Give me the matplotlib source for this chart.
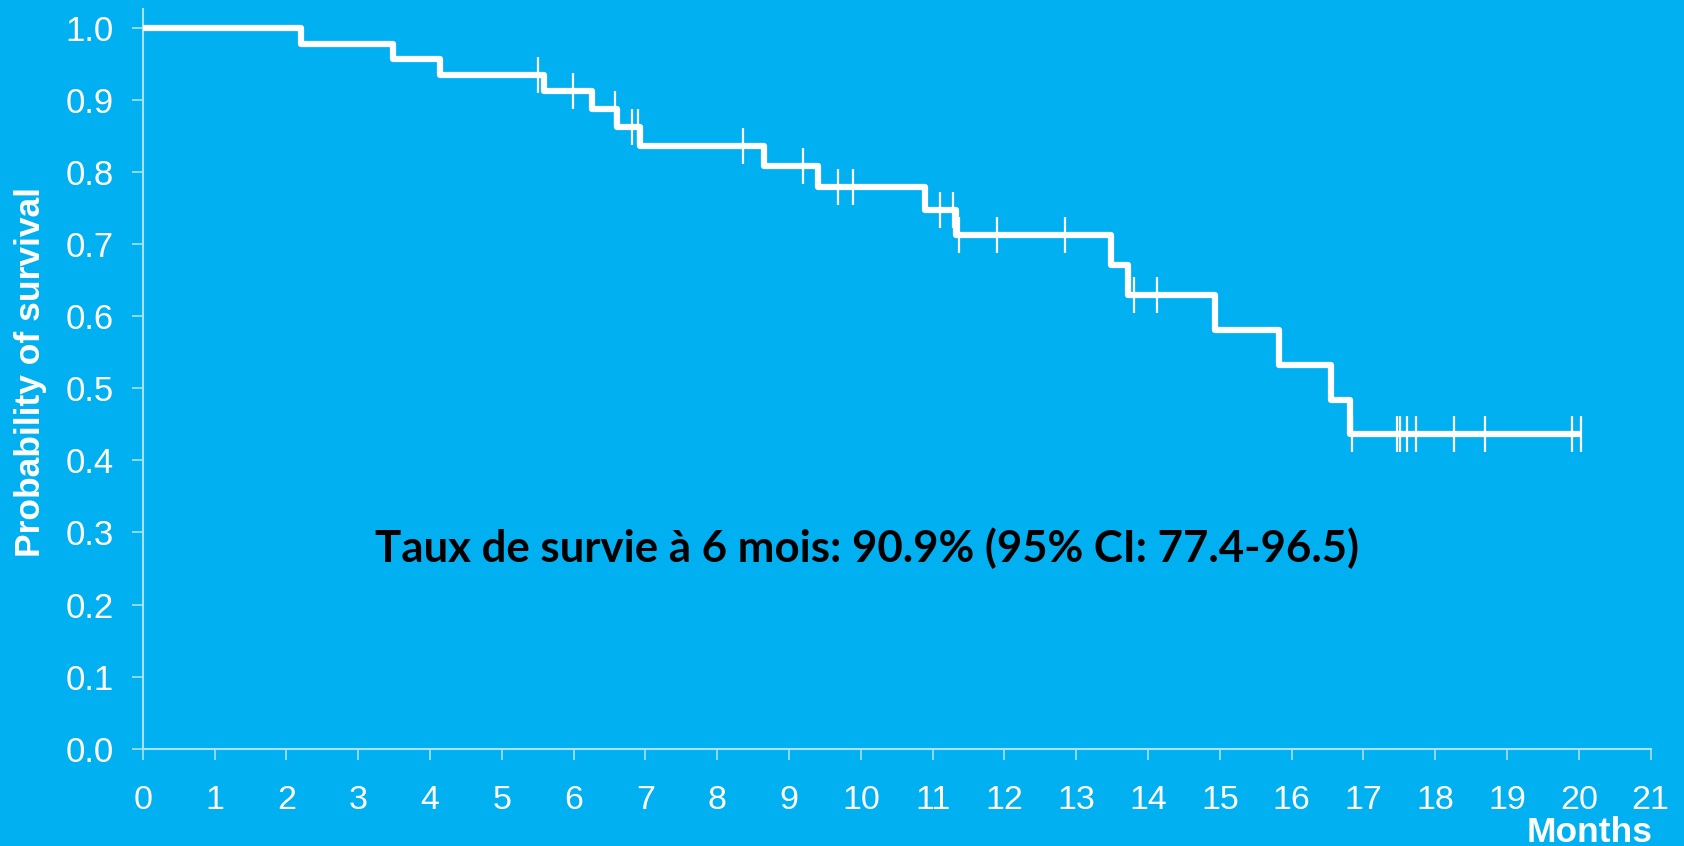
import numpy as np
import matplotlib.pyplot as plt

# Kaplan-Meier steps
step_times = [0, 2.21, 3.48, 4.14, 5.59, 6.25, 6.60, 6.93, 8.65, 9.41, 10.90,
              11.33, 13.48, 13.72, 14.93, 15.82, 16.55, 16.81]
step_surv = [1.0, 0.978, 0.957, 0.935, 0.912, 0.888, 0.863, 0.836, 0.808, 0.779,
             0.748, 0.713, 0.671, 0.629, 0.581, 0.532, 0.484, 0.436]
end_time = 20.03

censor_times = [5.50, 5.99, 6.57, 6.81, 6.90, 8.36, 9.19, 9.68, 9.89, 11.10,
                11.28, 11.37, 11.89, 12.85, 13.80, 14.13, 16.84, 17.47, 17.51,
                17.60, 17.73, 18.26, 18.69, 19.90, 20.03]

x_ticks = list(range(0, 22))
y_ticks = [0.0, 0.1, 0.2, 0.3, 0.4, 0.5, 0.6, 0.7, 0.8, 0.9, 1.0]
note = "Taux de survie à 6 mois: 90.9% (95% CI: 77.4-96.5)"

bg = "#00B0F0"
spine_col = "#a8e2fa"

plt.rcParams['font.family'] = ['Liberation Sans', 'DejaVu Sans']

fig = plt.figure(figsize=(16.84, 8.46), dpi=100, facecolor=bg)
ax = fig.add_axes([0.0848, 0.1151, 0.8954, 0.8739])
ax.set_facecolor(bg)

xs = step_times + [end_time]
ys = step_surv + [step_surv[-1]]
ax.step(xs, ys, where='post', color='white', lw=4.5,
        solid_joinstyle='round', solid_capstyle='butt', zorder=3)

# censor marks sit on the curve
censor_y = [step_surv[np.searchsorted(step_times, t, side='right') - 1] for t in censor_times]
ax.plot(censor_times, censor_y, ls='none', marker='|', color='white',
        markersize=26, markeredgewidth=1.6, zorder=4)

ax.set_xlim(0, 21)
ax.set_ylim(0, 1.026)
ax.set_xticks(x_ticks)
ax.set_yticks(y_ticks)
ax.set_yticklabels([f"{v:.1f}" for v in y_ticks])

for s in ['top', 'right']:
    ax.spines[s].set_visible(False)
for s in ['left', 'bottom']:
    ax.spines[s].set_color(spine_col)
    ax.spines[s].set_linewidth(1.5)

ax.tick_params(axis='both', direction='out', length=8, width=1.2,
               color=spine_col, labelcolor='white')
ax.tick_params(axis='x', pad=18, labelsize=24.5)
ax.tick_params(axis='y', pad=13, labelsize=25)

fig.text(31 / 1684, 0.5597, "Probability of survival", color='white',
         fontsize=25.5, fontweight='bold', rotation=90, ha='center', va='center')
fig.text(0.9816, 0.005, "Months", color='white', fontsize=25.5,
         fontweight='bold', ha='right', va='baseline')

ax.text(10.09, 0.2593, note, color='black', fontsize=31.5, fontweight='bold',
        ha='center', va='baseline', family=['Lato', 'DejaVu Sans'])

plt.savefig("out.png", dpi=100, facecolor=bg)
